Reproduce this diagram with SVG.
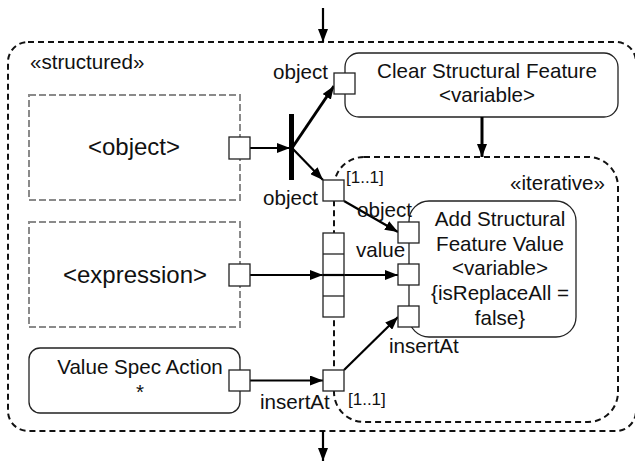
<svg xmlns="http://www.w3.org/2000/svg" width="635" height="464" viewBox="0 0 635 464">
<style>
  text { font-family: "Liberation Sans", Arial, Helvetica, sans-serif; fill: #111; }
  .t { font-size: 20.6px; }
  .big { font-size: 24px; }
  .small { font-size: 17px; }
  .mid { text-anchor: middle; }
  .region { fill: none; stroke: #111; stroke-width: 2; stroke-dasharray: 6 4; }
  .gray { fill: #fff; stroke: #8a8a8a; stroke-width: 2; stroke-dasharray: 7 3; }
  .action { fill: #fff; stroke: #222; stroke-width: 1.3; }
  .pin { fill: #fff; stroke: #222; stroke-width: 1.3; }
  .flow { fill: none; stroke: #000; stroke-width: 2.2; marker-end: url(#ah); }
  .thick { stroke-width: 3; }
</style>
<defs>
  <marker id="ah" viewBox="0 0 13 10" refX="13" refY="5" markerUnits="userSpaceOnUse" markerWidth="13" markerHeight="10" orient="auto">
    <path d="M0,0 L13,5 L0,10 z" fill="#000"/>
  </marker>
</defs>
<rect width="635" height="464" fill="#fff"/>

<g id="structured-region">
  <rect class="region" x="8" y="42" width="628" height="389" rx="20"/>
  <text class="t" x="30" y="69">«structured»</text>
</g>

<g id="iterative-region">
  <rect class="region" x="334" y="157" width="284" height="265" rx="30"/>
  <text class="t" x="510" y="190">«iterative»</text>
</g>

<g id="object-node">
  <rect class="gray" x="29" y="95" width="211" height="105"/>
  <text class="big mid" x="134" y="155">&lt;object&gt;</text>
</g>

<g id="expression-node">
  <rect class="gray" x="29" y="222" width="211" height="105"/>
  <text class="big mid" x="135" y="283">&lt;expression&gt;</text>
</g>

<g id="value-spec-action">
  <rect class="action" x="29" y="348" width="211" height="65" rx="11"/>
  <text class="t mid" x="140" y="374">Value Spec Action</text>
  <text class="t mid" x="140" y="399">*</text>
</g>

<g id="clear-structural-feature">
  <rect class="action" x="345" y="53" width="273" height="64" rx="14"/>
  <text class="t mid" x="487" y="78">Clear Structural Feature</text>
  <text class="t mid" x="487" y="102">&lt;variable&gt;</text>
</g>

<g id="add-structural-feature-value">
  <rect class="action" x="409" y="201" width="167" height="136" rx="20"/>
  <text class="t mid" x="500" y="226">Add Structural</text>
  <text class="t mid" x="500" y="251">Feature Value</text>
  <text class="t mid" x="500" y="275">&lt;variable&gt;</text>
  <text class="t mid" x="500" y="300">{isReplaceAll =</text>
  <text class="t mid" x="500" y="325">false}</text>
</g>

<g id="fork">
  <rect x="289" y="114" width="5" height="66" fill="#000"/>
</g>

<g id="connectors">
  <line class="flow" x1="323" y1="8" x2="323" y2="42"/>
  <line class="flow" x1="323" y1="431" x2="323" y2="461"/>
  <line class="flow" x1="250" y1="148" x2="290" y2="148"/>
  <line class="flow thick" x1="292" y1="148" x2="334" y2="86"/>
  <line class="flow" x1="292" y1="148" x2="323" y2="180"/>
  <line class="flow thick" x1="482" y1="117" x2="482" y2="157"/>
  <line class="flow" x1="344" y1="201" x2="398" y2="232"/>
  <line class="flow" x1="250" y1="275" x2="323" y2="275"/>
  <line class="flow" x1="344" y1="275" x2="398" y2="275"/>
  <line class="flow" x1="250" y1="380.5" x2="323" y2="380.5"/>
  <line class="flow" x1="344" y1="370" x2="398" y2="317"/>
</g>

<g id="pins">
  <rect class="pin" x="229" y="137" width="21" height="22"/>
  <rect class="pin" x="229" y="264" width="21" height="22"/>
  <rect class="pin" x="229" y="370" width="21" height="21"/>
  <rect class="pin" x="334" y="73" width="21" height="21"/>
  <rect class="pin" x="323" y="180" width="21" height="21"/>
  <rect class="pin" x="323" y="370" width="21" height="21"/>
  <rect class="pin" x="398" y="222" width="21" height="21"/>
  <rect class="pin" x="398" y="264" width="21" height="21"/>
  <rect class="pin" x="398" y="306" width="21" height="21"/>
</g>

<g id="expansion-table">
  <rect class="pin" x="323" y="233" width="21" height="84"/>
  <line x1="323" y1="254" x2="344" y2="254" stroke="#222" stroke-width="1.3"/>
  <line x1="323" y1="275" x2="344" y2="275" stroke="#000" stroke-width="2.2"/>
  <line x1="323" y1="296" x2="344" y2="296" stroke="#222" stroke-width="1.3"/>
</g>

<g id="pin-labels">
  <text class="t" x="273" y="79">object</text>
  <text class="t" x="263" y="205">object</text>
  <text class="small" x="346" y="183">[1..1]</text>
  <text class="t" x="357" y="217">object</text>
  <text class="t" x="356" y="257">value</text>
  <text class="t" x="389" y="353">insertAt</text>
  <text class="t" x="260" y="409">insertAt</text>
  <text class="small" x="348" y="405">[1..1]</text>
</g>
</svg>
